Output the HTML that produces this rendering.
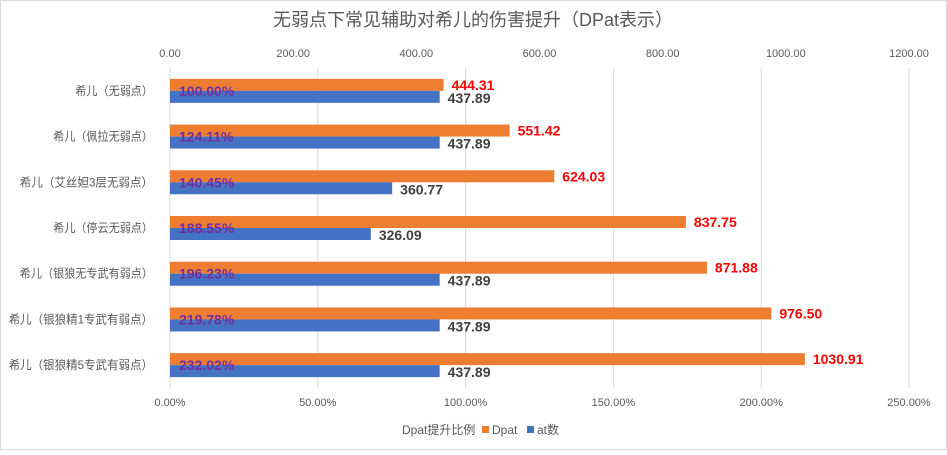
<!DOCTYPE html>
<html><head><meta charset="utf-8"><style>
body{margin:0;background:#fff;}
svg text{font-family:"Liberation Sans","Noto Sans CJK SC",sans-serif;}
</style></head><body>
<svg id="c" width="947" height="450" viewBox="0 0 947 450" xmlns="http://www.w3.org/2000/svg">
<rect x="0.5" y="0.5" width="946" height="449" fill="#fff" stroke="#d9d9d9"/>
<text x="473" y="26" text-anchor="middle" font-size="18" fill="#595959">无弱点下常见辅助对希儿的伤害提升（DPat表示）</text>
<g id="grid"></g><g id="bars"></g><g id="labels"></g>
<g>
<text x="402" y="434" font-size="12" fill="#595959">Dpat提升比例</text>
<rect x="482" y="426" width="7" height="7" fill="#ED7D31"/>
<text x="492" y="434" font-size="12" fill="#595959">Dpat</text>
<rect x="527" y="426" width="7" height="7" fill="#4472C4"/>
<text x="537" y="434" font-size="12" fill="#595959">at数</text>
</g>
</svg>
<script>
const categories=["希儿（无弱点）","希儿（佩拉无弱点）","希儿（艾丝妲3层无弱点）","希儿（停云无弱点）","希儿（银狼无专武有弱点）","希儿（银狼精1专武有弱点）","希儿（银狼精5专武有弱点）"];
const dpat=[444.31,551.42,624.03,837.75,871.88,976.50,1030.91];
const atNum=[437.89,437.89,360.77,326.09,437.89,437.89,437.89];
const ratio=[100.00,124.11,140.45,188.55,196.23,219.78,232.02];
const topTicks=[0,200,400,600,800,1000,1200];
const bottomTicks=[0,50,100,150,200,250];
const NS="http://www.w3.org/2000/svg";
const X0=170,X1=909,Y0=68,Y1=388;
const xTop=v=>X0+(v/1200)*(X1-X0);
const xBot=v=>X0+(v/250)*(X1-X0);
const band=(Y1-Y0)/categories.length;
const yc=i=>Y0+band*(i+0.5);
function mk(tag,attrs,parent,txt){const e=document.createElementNS(NS,tag);for(const k in attrs)e.setAttribute(k,attrs[k]);if(txt!==undefined)e.textContent=txt;parent.appendChild(e);return e;}
const grid=document.getElementById('grid'),bars=document.getElementById('bars'),labels=document.getElementById('labels');
bottomTicks.forEach(t=>{
 const l=mk('line',{x1:xBot(t),x2:xBot(t),y1:Y0,y2:Y1,stroke:'#d9d9d9'},grid);
 
 
 const tx=mk('text',{x:xBot(t),y:406,'text-anchor':'middle','font-size':11,fill:'#595959'},grid,t.toFixed(2)+'%');
 
 
});
topTicks.forEach(t=>{
 const tx=mk('text',{x:xTop(t),y:57,'text-anchor':'middle','font-size':11,fill:'#595959'},grid,t.toFixed(2));
 
 
});
const bh=12;
categories.forEach((c,i)=>{
 const y=yc(i);
 const ct=mk('text',{x:153,y:y+4,'text-anchor':'end','font-size':12,fill:'#595959',textLength:(c.length*11.1).toFixed(1),lengthAdjust:'spacingAndGlyphs'},labels,c);
 
 
 const o=mk('rect',{x:X0,y:y-bh,width:xTop(dpat[i])-X0,height:bh,fill:'#ED7D31'},bars);
 
 
 const b=mk('rect',{x:X0,y:y,width:xTop(atNum[i])-X0,height:bh,fill:'#4472C4'},bars);
 
 
 const ot=mk('text',{x:xTop(dpat[i])+8,y:y-1,'font-size':14,'font-weight':'bold',fill:'#FF0000'},labels,dpat[i].toFixed(2));
 
 
 const at=mk('text',{x:xTop(atNum[i])+8,y:y+12,'font-size':14,'font-weight':'bold',fill:'#404040'},labels,atNum[i].toFixed(2));
 
 
 const rt=mk('text',{x:179,y:y+5,'font-size':14,'font-weight':'bold',fill:'#7030A0'},labels,ratio[i].toFixed(2)+'%');
 
 
});
</script>
</body></html>
